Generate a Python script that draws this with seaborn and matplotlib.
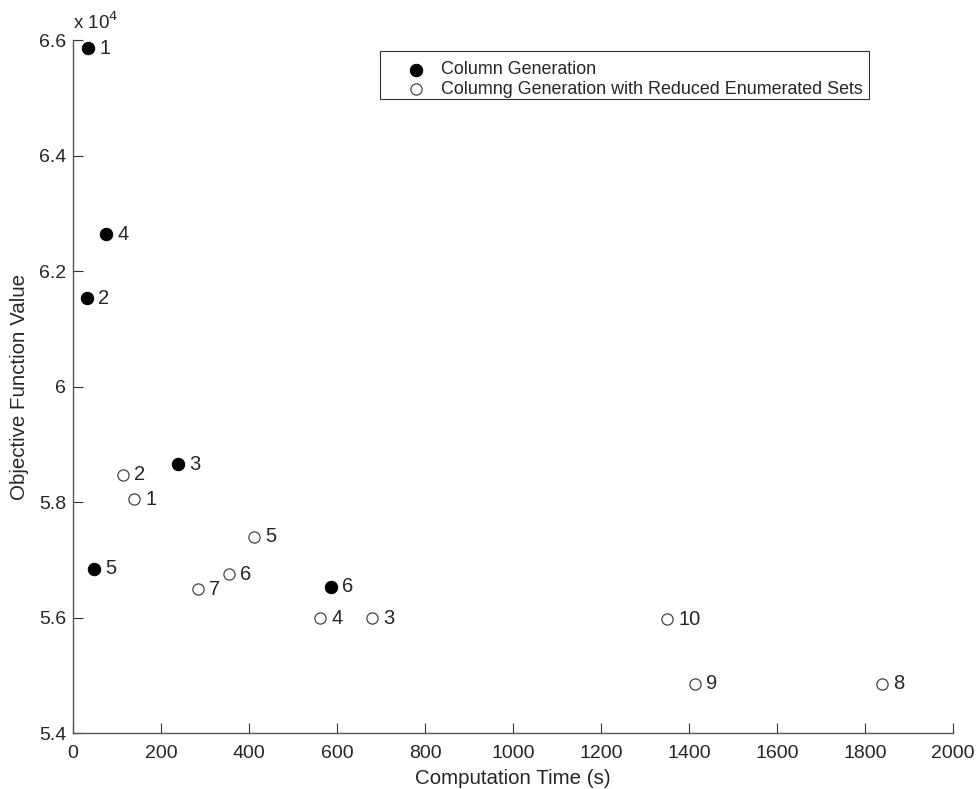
import seaborn as sns
import matplotlib.pyplot as plt
import pandas as pd
from matplotlib.patches import Rectangle
from matplotlib.ticker import FuncFormatter

# Column Generation runs
cg_id = [1, 2, 3, 4, 5, 6]
cg_time = [34, 32, 238, 75, 48, 586]
cg_obj = [65860, 61530, 58650, 62640, 56840, 56530]

# Column Generation with Reduced Enumerated Sets runs
cgr_id = [1, 2, 3, 4, 5, 6, 7, 8, 9, 10]
cgr_time = [139, 114, 680, 562, 411, 355, 283, 1839, 1414, 1351]
cgr_obj = [58050, 58470, 55990, 55990, 57400, 56750, 56490, 54850, 54850, 55970]

cg = pd.DataFrame({'id': cg_id, 'time': cg_time, 'obj': cg_obj})
cgr = pd.DataFrame({'id': cgr_id, 'time': cgr_time, 'obj': cgr_obj})

sns.set_style('white')
plt.rcParams['font.family'] = ['Liberation Sans', 'DejaVu Sans']

fig = plt.figure(figsize=(9.77, 7.89), dpi=100)
ax = fig.add_axes([73 / 977, 1 - 733 / 789, 880 / 977, 693 / 789])

sns.scatterplot(data=cg, x='time', y='obj', ax=ax, color='black', edgecolor='black',
                s=80, marker='o', label='Column Generation', zorder=3)
sns.scatterplot(data=cgr, x='time', y='obj', ax=ax, color='white', edgecolor='#444444',
                linewidth=0.9, s=65, marker='o',
                label='Columng Generation with Reduced Enumerated Sets', zorder=3)

for df in (cg, cgr):
    for _, r in df.iterrows():
        ax.annotate(str(int(r['id'])), (r['time'], r['obj']), xytext=(8, 0),
                    textcoords='offset points', va='center', ha='left', fontsize=14.5)

ax.set_xlim(0, 2000)
ax.set_ylim(54000, 66000)
ax.set_xticks(range(0, 2001, 200))
ax.set_yticks([54000, 56000, 58000, 60000, 62000, 64000, 66000])
ax.yaxis.set_major_formatter(FuncFormatter(lambda v, p: '%g' % (v / 1e4)))
ax.tick_params(bottom=True, left=True, direction='in', length=7, width=0.8,
               color='#333333', labelsize=14)
ax.tick_params(axis='x', pad=9)
ax.tick_params(axis='y', pad=5)

for s in ['top', 'right']:
    ax.spines[s].set_visible(False)
for s in ['left', 'bottom']:
    ax.spines[s].set_color('#555555')
    ax.spines[s].set_linewidth(1.0)

ax.set_xlabel('Computation Time (s)', fontsize=14.8, labelpad=5)
ax.set_ylabel('Objective Function Value', fontsize=14.8, labelpad=7)
ax.text(0.0, 1.01, 'x 10$^{4}$', transform=ax.transAxes, fontsize=13.5, ha='left', va='bottom')

# legend entries without frame, box drawn separately
leg = ax.legend(loc='upper left', bbox_to_anchor=(0.3814, 0.969), fontsize=12.9,
                frameon=False, handletextpad=1.0, borderpad=0, labelspacing=0.12,
                handlelength=0.8, borderaxespad=0)
ax.add_patch(Rectangle((0.3489, 0.9149), 0.5557, 0.0693, transform=ax.transAxes,
                       fill=False, edgecolor='#333333', linewidth=0.8, zorder=4))

fig.savefig('out.png', dpi=100)
